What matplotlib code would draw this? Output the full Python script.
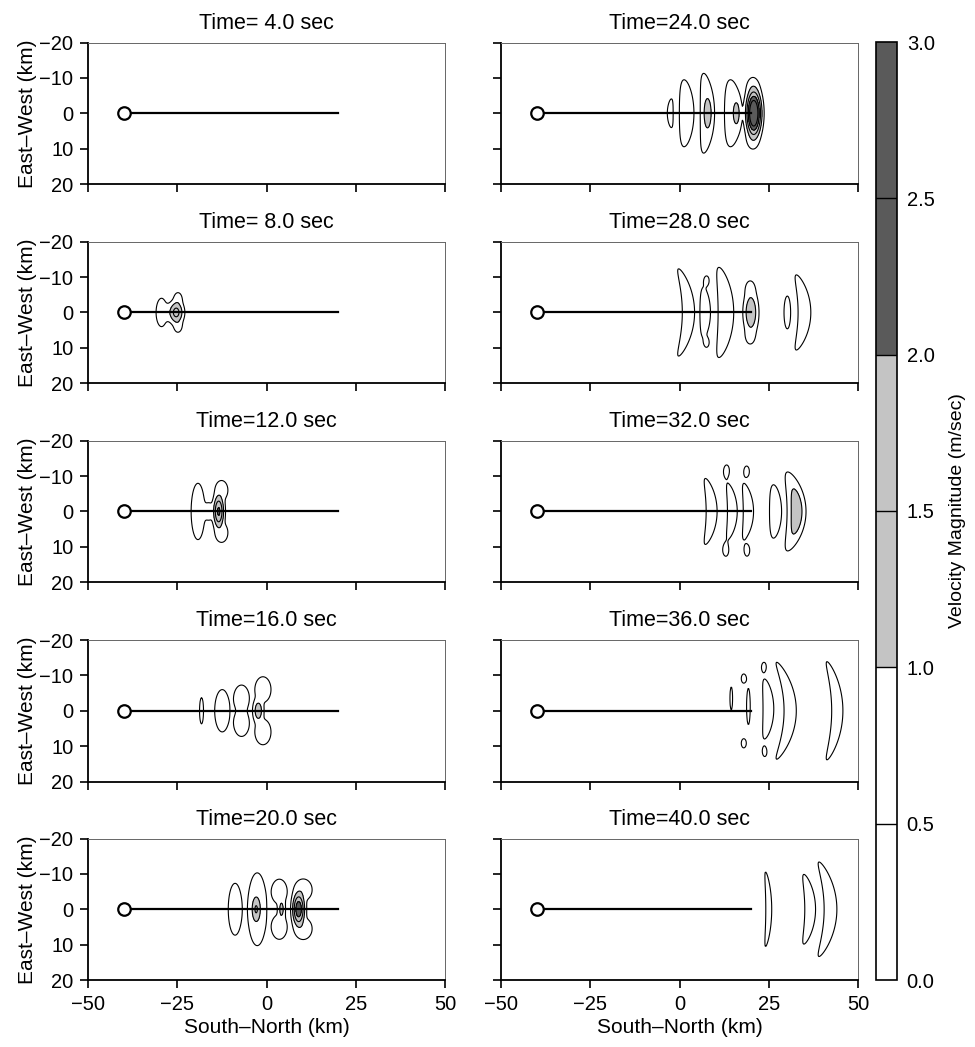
import numpy as np
import matplotlib
matplotlib.use("Agg")
import matplotlib.pyplot as plt
from matplotlib.colors import ListedColormap, BoundaryNorm
from matplotlib.cm import ScalarMappable

plt.rcParams["font.family"] = ["Liberation Sans", "DejaVu Sans"]

# snapshot times (s), left column first, then right column
times = [4.0, 8.0, 12.0, 16.0, 20.0, 24.0, 28.0, 32.0, 36.0, 40.0]

# velocity lobes read off each snapshot:
# (x_km, y_km, peak_m/s, width_x, width_y, bend)
lobes_04 = []
lobes_08 = [(-25.3, 0, 1.7, 2.2, 3.4, 0), (-24.8, -3.6, 0.8, 1.7, 2.9, 0),
            (-24.8, 3.6, 0.8, 1.7, 2.9, 0), (-29.4, 0, 0.75, 2.4, 6.3, 0),
            (-27.5, 0, 0.7, 1.6, 3.2, 0)]
lobes_12 = [(-13.4, 0, 2.1, 1.6, 5.0, 0), (-12.6, -6, 0.8, 2.6, 4.0, 0),
            (-12.6, 6, 0.8, 2.6, 4.0, 0), (-19.2, 0, 0.75, 3.0, 12.5, 0),
            (-16.0, 0, 0.7, 2.0, 4.0, 0)]
lobes_16 = [(-18.2, 0, 0.62, 1.2, 8.0, 0), (-12.4, 0, 0.82, 3.0, 8.5, 0),
            (-7.0, -3.5, 0.88, 2.9, 5.0, 0), (-7.0, 3.5, 0.88, 2.9, 5.0, 0),
            (-1.0, -6, 0.88, 3.0, 4.8, 0), (-1.0, 6, 0.88, 3.0, 4.8, 0),
            (-2.3, 0, 1.35, 1.6, 3.8, 0)]
lobes_20 = [(-8.8, 0, 0.75, 3.0, 11.5, 0), (-2.6, 0, 0.8, 3.9, 15, 0),
            (-2.9, 0, 1.5, 1.5, 4.5, 0), (3.6, -5, 0.85, 3.0, 4.8, 0),
            (3.6, 5, 0.85, 3.0, 4.8, 0), (4.2, 0, 1.15, 1.2, 4.0, 0),
            (9.0, 0, 2.4, 1.8, 5.0, 0), (10.3, -5.5, 0.85, 3.4, 4.2, 0),
            (10.3, 5.5, 0.85, 3.4, 4.2, 0)]
lobes_24 = [(-2.6, 0, 0.7, 1.4, 7.0, -0.02), (2.0, 0, 0.85, 2.8, 13, 0.008),
            (7.8, 0, 0.88, 2.6, 15, 0.008), (7.9, 0, 1.25, 1.5, 6, 0),
            (15.0, 0, 0.85, 3.3, 13, 0.008), (16.0, 0, 1.2, 1.3, 5, 0),
            (20.8, 0, 3.4, 2.1, 6.5, 0), (20.5, -7, 0.75, 2.5, 4.5, 0),
            (20.5, 7, 0.75, 2.5, 4.5, 0)]
lobes_28 = [(2.5, 0, 0.8, 2.5, 18, 0.018), (7.2, 0, 0.78, 2.2, 10.5, 0.01),
            (7.6, -9, 0.65, 1.3, 2.5, 0), (7.6, 8.5, 0.65, 1.3, 2.5, 0),
            (13.0, 0, 0.85, 3.0, 17.5, 0.012), (20.0, 0, 1.45, 2.2, 6.5, 0),
            (19.8, -6.5, 0.7, 2.2, 4.0, 0), (19.8, 6.5, 0.7, 2.2, 4.0, 0),
            (30.2, 0, 0.62, 2.0, 10, 0), (35.0, 0, 0.8, 2.6, 15.5, 0.02)]
lobes_32 = [(9.0, 0, 0.78, 2.3, 14, 0.02), (14.8, 0, 0.8, 2.0, 11.5, 0.02),
            (13.2, -11.5, 0.65, 1.5, 3.2, 0), (13.0, 11.0, 0.65, 1.5, 3.2, 0),
            (19.3, 0, 0.8, 2.1, 11.5, 0.02), (18.8, -11.3, 0.65, 1.5, 3.0, 0),
            (18.9, 11.0, 0.65, 1.5, 3.2, 0), (26.9, 0, 0.72, 2.8, 12.5, 0.01),
            (32.8, 0, 1.4, 2.6, 11, 0.02)]
lobes_36 = [(14.5, -3.5, 0.62, 0.8, 7.0, 0), (19.3, -1.2, 0.65, 1.0, 10, 0),
            (18.0, -9.1, 0.62, 1.5, 2.8, 0), (18.0, 9.2, 0.62, 1.5, 2.8, 0),
            (23.7, -12.5, 0.6, 1.3, 2.6, 0), (23.9, 11.7, 0.6, 1.3, 2.8, 0),
            (24.9, -0.5, 0.72, 2.5, 14, 0.015), (31.0, 0, 0.8, 2.5, 20, 0.02),
            (44.2, 0, 0.72, 2.6, 23, 0.015)]
lobes_40 = [(25.0, 0, 0.68, 1.5, 19, 0.008), (36.6, 0, 0.7, 2.6, 17, 0.018),
            (42.3, 0, 0.75, 2.8, 21, 0.018)]

all_lobes = [lobes_04, lobes_08, lobes_12, lobes_16, lobes_20,
             lobes_24, lobes_28, lobes_32, lobes_36, lobes_40]

hypocenter = (-40.0, 0.0)
fault_x = [-40.0, 20.0]
fault_y = [0.0, 0.0]

line_levels = [0.5, 1.0, 1.5, 2.0, 2.5]
bar_bounds = [0.0, 0.5, 1.0, 1.5, 2.0, 2.5, 3.0]
light, dark = "#c4c4c4", "#5a5a5a"

xs = np.linspace(-50, 50, 501)
ys = np.linspace(-20, 20, 201)
X, Y = np.meshgrid(xs, ys)


def field(lobes):
    acc = np.zeros_like(X)
    for (x0, y0, amp, sx, sy, bend) in lobes:
        dx = X - x0 + bend * (Y - y0) ** 2
        f = amp * np.exp(-(dx / sx) ** 2 - ((Y - y0) / sy) ** 2)
        acc += f ** 3
    return acc ** (1.0 / 3.0)


fig = plt.figure(figsize=(9.75, 10.47), dpi=100)
W, H = 975.0, 1047.0
col_left = [88, 501]
ax_w, ax_h = 357, 141.5
row_top = [42.5, 241.7, 440.7, 640, 838.5]

for k, (t, lobes) in enumerate(zip(times, all_lobes)):
    col, row = divmod(k, 5)
    ax = fig.add_axes([col_left[col] / W, 1 - (row_top[row] + ax_h) / H,
                       ax_w / W, ax_h / H])
    if lobes:
        Z = field(lobes)
        ax.contourf(X, Y, Z, levels=[1.0, 2.0, 100], colors=[light, dark])
        ax.contour(X, Y, Z, levels=line_levels, colors="black", linewidths=0.8)
    ax.plot(fault_x, fault_y, color="black", lw=1.6, zorder=5)
    ax.plot(*hypocenter, marker="o", ms=9, mfc="white", mec="black",
            mew=1.6, zorder=6)
    ax.set_xlim(-50, 50)
    ax.set_ylim(20, -20)
    ax.set_xticks([-50, -25, 0, 25, 50])
    ax.set_yticks([-20, -10, 0, 10, 20])
    ax.tick_params(direction="out", length=5.5, width=1.2, labelsize=14.5,
                   top=False, right=False)
    ax.tick_params(axis="x", pad=5)
    ax.tick_params(axis="y", pad=5)
    for s in ["left", "bottom"]:
        ax.spines[s].set_linewidth(1.3)
    for s in ["top", "right"]:
        ax.spines[s].set_linewidth(0.7)
        ax.spines[s].set_color("#666666")
    ax.set_title(f"Time={t:4.1f} sec", fontsize=15.5, pad=10)
    if col == 0:
        ax.set_ylabel("East\u2013West (km)", fontsize=15, labelpad=2)
    else:
        ax.set_yticklabels([])
    if row == 4:
        ax.set_xlabel("South\u2013North (km)", fontsize=15, labelpad=3)
    else:
        ax.set_xticklabels([])

# colour bar
cax = fig.add_axes([876 / W, 1 - 980 / H, 21 / W, 938 / H])
cmap = ListedColormap(["white", "white", light, light, dark, dark])
norm = BoundaryNorm(bar_bounds, cmap.N)
cb = fig.colorbar(ScalarMappable(norm=norm, cmap=cmap), cax=cax,
                  ticks=bar_bounds)
cb.ax.set_yticklabels([f"{v:.1f}" for v in bar_bounds])
cb.ax.tick_params(length=0, labelsize=14.5, pad=7)
for v in bar_bounds[1:-1]:
    cax.axhline(v, color="black", lw=1.0)
cb.outline.set_linewidth(1.2)
cb.set_label("Velocity Magnitude (m/sec)", fontsize=14, labelpad=10)

fig.savefig("out.png", dpi=100)
